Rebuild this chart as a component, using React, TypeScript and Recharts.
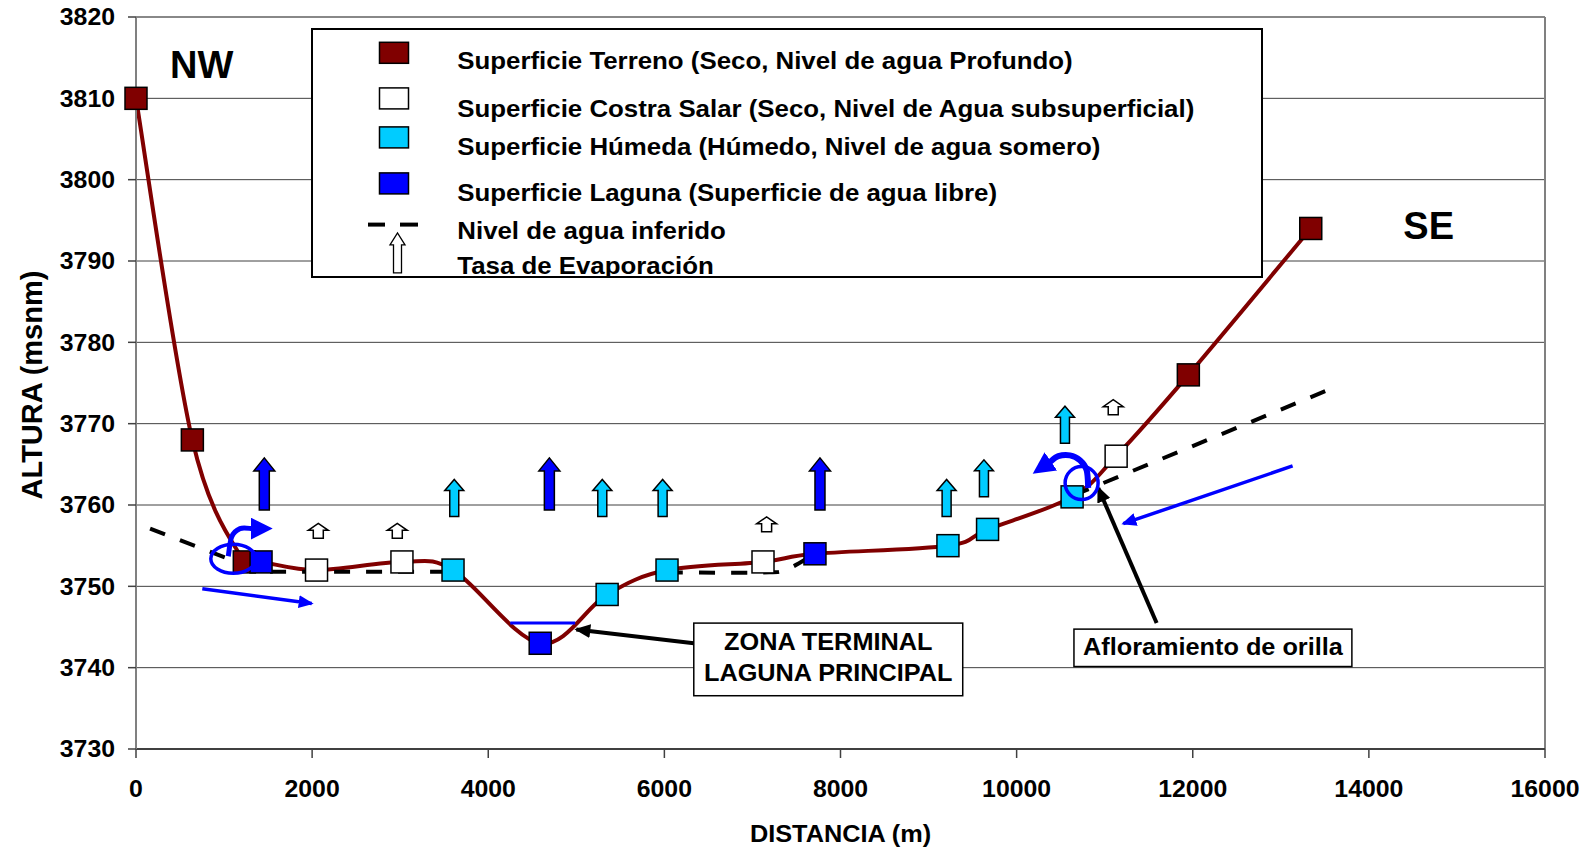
import React from 'react';
import {
  ComposedChart,
  Line,
  Scatter,
  XAxis,
  YAxis,
  CartesianGrid,
  ReferenceArea,
  ReferenceDot,
  ReferenceLine,
  Legend,
  Label,
} from 'recharts';

const FONT = '"Liberation Sans", Arial, Helvetica, sans-serif';

const TERRENO = '#800000';
const COSTRA = '#ffffff';
const HUMEDA = '#00ccff';
const LAGUNA = '#0000ff';
const FLUJO = '#0000ff';

// --- data (distancia m, altura msnm) ---
const terreno = [
  { x: 0, y: 3810 },
  { x: 640, y: 3768 },
  { x: 1230, y: 3753 },
  { x: 11950, y: 3776 },
  { x: 13340, y: 3794 },
];
const costra = [
  { x: 2050, y: 3752 },
  { x: 3020, y: 3753 },
  { x: 7120, y: 3753 },
  { x: 11130, y: 3766 },
];
const humeda = [
  { x: 3600, y: 3752 },
  { x: 5350, y: 3749 },
  { x: 6030, y: 3752 },
  { x: 9220, y: 3755 },
  { x: 9670, y: 3757 },
  { x: 10630, y: 3761 },
];
const laguna = [
  { x: 1420, y: 3753 },
  { x: 4590, y: 3743 },
  { x: 7710, y: 3754 },
];

// nivel de agua inferido (tramos discontinuos)
const nivelAgua1 = [
  { x: 160, y: 3757.1 },
  { x: 1430, y: 3751.8 },
  { x: 3600, y: 3751.8 },
];
const nivelAgua2 = [
  { x: 6030, y: 3751.7 },
  { x: 7100, y: 3751.7 },
  { x: 7370, y: 3752 },
  { x: 7650, y: 3753.6 },
];
const nivelAgua3 = [
  { x: 10650, y: 3761.2 },
  { x: 13640, y: 3774.6 },
];

// tasa de evaporacion (base de cada flecha)
const evapLaguna = [
  { x: 1457, y: 3759.4 },
  { x: 4694, y: 3759.4 },
  { x: 7767, y: 3759.4 },
];
const evapHumeda = [
  { x: 3614, y: 3758.6 },
  { x: 5295, y: 3758.6 },
  { x: 5980, y: 3758.6 },
  { x: 9205, y: 3758.6 },
  { x: 9629, y: 3761.0 },
  { x: 10549, y: 3767.6 },
];
const evapCostra = [
  { x: 2070, y: 3755.9 },
  { x: 2967, y: 3755.9 },
  { x: 7161, y: 3756.7 },
  { x: 11097, y: 3771.1 },
];

// flujos y anotaciones
const flujoNW = [
  { x: 753, y: 3749.7 },
  { x: 1995, y: 3747.9 },
];
const flujoSE = [
  { x: 13134, y: 3764.8 },
  { x: 11211, y: 3757.7 },
];
const giroNW = [
  { x: 1048, y: 3753.7 },
  { x: 1087, y: 3756.1 },
  { x: 1181, y: 3757.1 },
  { x: 1314, y: 3757.1 },
];
const giroSE = [
  { x: 10813, y: 3762.1 },
  { x: 10795, y: 3764.3 },
  { x: 10719, y: 3765.5 },
  { x: 10606, y: 3766.1 },
  { x: 10473, y: 3766.0 },
  { x: 10379, y: 3765.3 },
];
const espejoLaguna = [
  { x: 4250, y: 3745.5 },
  { x: 4987, y: 3745.5 },
];
const flechaZona = [
  { x: 6334, y: 3743.0 },
  { x: 5000, y: 3744.7 },
];
const flechaOrilla = [
  { x: 11590, y: 3745.5 },
  { x: 10927, y: 3762.1 },
];
const anilloNW = { x: 1105, y: 3753.4 };
const anilloSE = { x: 10738, y: 3762.7 };

const regiones = [
  { label: 'NW', x: 746, y: 3814.2 },
  { label: 'SE', x: 14679, y: 3794.4 },
];

const notaZona = { x1: 6334, x2: 9388, y1: 3736.55, y2: 3745.48, lines: ['ZONA TERMINAL', 'LAGUNA PRINCIPAL'] };
const notaOrilla = { x1: 10651, x2: 13807, y1: 3740.14, y2: 3744.74, lines: ['Afloramiento de orilla'] };

const xTicks = [0, 2000, 4000, 6000, 8000, 10000, 12000, 14000, 16000];
const yTicks = [3730, 3740, 3750, 3760, 3770, 3780, 3790, 3800, 3810, 3820];

const legendRows = [
  { label: 'Superficie Terreno (Seco, Nivel de agua Profundo)', kind: 'square', color: TERRENO, top: 14.3, base: 40.6 },
  { label: 'Superficie Costra Salar (Seco, Nivel de Agua subsuperficial)', kind: 'square', color: COSTRA, top: 59.9, base: 89.3 },
  { label: 'Superficie Húmeda (Húmedo, Nivel de agua somero)', kind: 'square', color: HUMEDA, top: 98.9, base: 127.4 },
  { label: 'Superficie Laguna (Superficie de agua libre)', kind: 'square', color: LAGUNA, top: 144.9, base: 172.6 },
  { label: 'Nivel de agua inferido', kind: 'dash', color: '#000', top: 196.6, base: 210.6 },
  { label: 'Tasa de Evaporación', kind: 'arrow', color: '#fff', top: 204.9, base: 245.6 },
];

const perfil = [...terreno, ...costra, ...humeda, ...laguna].sort((a, b) => a.x - b.x);

// Excel-like smoothed line (Bezier through points, 1/6 tangents)
const excelSmooth = (context: any) => {
  let pts: number[][] = [];
  return {
    areaStart() {},
    areaEnd() {},
    lineStart() {
      pts = [];
    },
    point(x: number, y: number) {
      pts.push([+x, +y]);
    },
    lineEnd() {
      const n = pts.length;
      if (!n) return;
      context.moveTo(pts[0][0], pts[0][1]);
      for (let i = 0; i < n - 1; i++) {
        const p0 = pts[Math.max(i - 1, 0)];
        const p1 = pts[i];
        const p2 = pts[i + 1];
        const p3 = pts[Math.min(i + 2, n - 1)];
        context.bezierCurveTo(
          p1[0] + (p2[0] - p0[0]) / 6,
          p1[1] + (p2[1] - p0[1]) / 6,
          p2[0] - (p3[0] - p1[0]) / 6,
          p2[1] - (p3[1] - p1[1]) / 6,
          p2[0],
          p2[1]
        );
      }
    },
  };
};

const StretchText = ({ x, y, size, anchor = 'start', sx = 1.1, children }: any) => (
  <text
    transform={`translate(${x} ${y}) scale(${sx} 1)`}
    textAnchor={anchor}
    fontSize={size}
    fontWeight="bold"
    fontFamily={FONT}
    fill="#000"
  >
    {children}
  </text>
);

const squareShape = (fill: string) => (props: any) => {
  const { cx, cy } = props;
  if (cx == null || cy == null) return <g />;
  return <rect x={cx - 11} y={cy - 11} width={22} height={22} fill={fill} stroke="#000" strokeWidth={1.5} />;
};

const arrowPoints = (cx: number, cy: number, H: number, h: number, W: number, w: number) =>
  [
    [cx - w / 2, cy],
    [cx - w / 2, cy - H + h],
    [cx - W / 2, cy - H + h],
    [cx, cy - H],
    [cx + W / 2, cy - H + h],
    [cx + w / 2, cy - H + h],
    [cx + w / 2, cy],
  ]
    .map((p) => p.join(','))
    .join(' ');

const arrowShape = (fill: string, H: number, h: number, W: number, w: number) => (props: any) => {
  const { cx, cy } = props;
  if (cx == null || cy == null) return <g />;
  return <polygon points={arrowPoints(cx, cy, H, h, W, w)} fill={fill} stroke="#000" strokeWidth={1.5} />;
};

const notaShape = (lines: string[], baselines: number[]) => (p: any) => (
  <g>
    <rect x={p.x} y={p.y} width={p.width} height={p.height} fill="#fff" stroke="#000" strokeWidth={1.5} />
    {lines.map((t, i) => (
      <StretchText key={t} x={p.x + p.width / 2} y={p.y + baselines[i]} size={23} anchor="middle">
        {t}
      </StretchText>
    ))}
  </g>
);

const LegendBox = () => (
  <svg width={952} height={250} style={{ display: 'block' }}>
    <rect x={1} y={1} width={950} height={248} fill="#fff" stroke="#000" strokeWidth={2} />
    {legendRows.map((row) => (
      <g key={row.label}>
        {row.kind === 'square' && (
          <rect x={68.5} y={row.top} width={29} height={21} fill={row.color} stroke="#000" strokeWidth={1.5} />
        )}
        {row.kind === 'dash' && (
          <g stroke="#000" strokeWidth={4}>
            <line x1={57} y1={row.top} x2={74} y2={row.top} />
            <line x1={89} y1={row.top} x2={107} y2={row.top} />
          </g>
        )}
        {row.kind === 'arrow' && (
          <polygon points={arrowPoints(86.5, row.top + 40, 40, 12, 15, 8)} fill="#fff" stroke="#000" strokeWidth={1.3} />
        )}
        <StretchText x={146.3} y={row.base} size={23.5}>
          {row.label}
        </StretchText>
      </g>
    ))}
  </svg>
);

const XTick = (props: any) => {
  const { x, y, payload } = props;
  return (
    <StretchText x={x} y={y + 39} size={23} anchor="middle" sx={1.08}>
      {payload.value}
    </StretchText>
  );
};

const YTick = (props: any) => {
  const { x, y, payload } = props;
  return (
    <StretchText x={x - 13} y={y + 8.3} size={23} anchor="end" sx={1.08}>
      {payload.value}
    </StretchText>
  );
};

const lineBase = {
  dot: false,
  activeDot: false,
  isAnimationActive: false,
  legendType: 'none' as const,
};

export default function App() {
  return (
    <div style={{ width: 1575, height: 851, marginTop: -8, fontFamily: FONT }}>
      <ComposedChart width={1575} height={851} margin={{ top: 17, right: 38, left: 0, bottom: 0 }}>
        <defs>
          <marker id="headBlue" markerUnits="userSpaceOnUse" markerWidth={15} markerHeight={13} refX={13} refY={6.5} orient="auto">
            <path d="M0,0 L15,6.5 L0,13 z" fill={FLUJO} />
          </marker>
          <marker id="headBlueBig" markerUnits="userSpaceOnUse" markerWidth={22} markerHeight={22} refX={1} refY={11} orient="auto">
            <path d="M0,0 L22,11 L0,22 z" fill={FLUJO} />
          </marker>
          <marker id="headBlack" markerUnits="userSpaceOnUse" markerWidth={16} markerHeight={14} refX={14} refY={7} orient="auto">
            <path d="M0,0 L16,7 L0,14 z" fill="#000" />
          </marker>
        </defs>

        <CartesianGrid vertical={false} stroke="#404040" strokeWidth={1} />
        <XAxis
          type="number"
          dataKey="x"
          domain={[0, 16000]}
          ticks={xTicks}
          interval={0}
          height={102}
          tickSize={9}
          tickMargin={0}
          axisLine={{ stroke: '#404040', strokeWidth: 2 }}
          tickLine={{ stroke: '#404040', strokeWidth: 1.5 }}
          tick={XTick}
        >
          <Label
            content={(p: any) => {
              const vb = p.viewBox || { x: 128, y: 749, width: 1409, height: 102 };
              return (
                <StretchText x={vb.x + vb.width / 2} y={vb.y + vb.height - 9} size={23} anchor="middle">
                  DISTANCIA (m)
                </StretchText>
              );
            }}
          />
        </XAxis>
        <YAxis
          type="number"
          dataKey="y"
          domain={[3730, 3820]}
          ticks={yTicks}
          interval={0}
          width={128}
          tickSize={8}
          tickMargin={0}
          axisLine={{ stroke: '#808080', strokeWidth: 2 }}
          tickLine={{ stroke: '#404040', strokeWidth: 1.5 }}
          tick={YTick}
        >
          <Label
            content={(p: any) => {
              const vb = p.viewBox || { x: 0, y: 17, width: 128, height: 732 };
              const cy = vb.y + vb.height / 2 + 2;
              return (
                <text
                  transform={`translate(33.7 ${cy}) rotate(-90)`}
                  textAnchor="middle"
                  fontSize={29}
                  fontWeight="bold"
                  fontFamily={FONT}
                  fill="#000"
                >
                  ALTURA (msnm)
                </text>
              );
            }}
          />
        </YAxis>

        <ReferenceLine x={16000} stroke="#808080" strokeWidth={2} />
        <ReferenceLine y={3820} stroke="#808080" strokeWidth={1.5} />

        <Line {...lineBase} data={perfil} dataKey="y" type={excelSmooth as any} stroke={TERRENO} strokeWidth={4} />

        <Scatter data={terreno} dataKey="y" isAnimationActive={false} legendType="none" shape={squareShape(TERRENO)} />
        <Scatter data={costra} dataKey="y" isAnimationActive={false} legendType="none" shape={squareShape(COSTRA)} />
        <Scatter data={humeda} dataKey="y" isAnimationActive={false} legendType="none" shape={squareShape(HUMEDA)} />
        <Scatter data={laguna} dataKey="y" isAnimationActive={false} legendType="none" shape={squareShape(LAGUNA)} />

        <Line {...lineBase} data={nivelAgua1} dataKey="y" type="linear" stroke="#000" strokeWidth={4} strokeDasharray="16 16" />
        <Line {...lineBase} data={nivelAgua2} dataKey="y" type={excelSmooth as any} stroke="#000" strokeWidth={4} strokeDasharray="16 16" />
        <Line {...lineBase} data={nivelAgua3} dataKey="y" type="linear" stroke="#000" strokeWidth={4} strokeDasharray="16 16" />

        <Scatter data={evapLaguna} dataKey="y" isAnimationActive={false} legendType="none" shape={arrowShape(LAGUNA, 52, 13, 21, 10)} />
        <Scatter data={evapHumeda} dataKey="y" isAnimationActive={false} legendType="none" shape={arrowShape(HUMEDA, 37, 11, 19, 9)} />
        <Scatter data={evapCostra} dataKey="y" isAnimationActive={false} legendType="none" shape={arrowShape(COSTRA, 15, 7, 20, 10)} />

        <Line {...lineBase} data={espejoLaguna} dataKey="y" type="linear" stroke={FLUJO} strokeWidth={3} />
        <Line {...lineBase} data={flujoNW} dataKey="y" type="linear" stroke={FLUJO} strokeWidth={3.5} markerEnd="url(#headBlue)" />
        <Line {...lineBase} data={flujoSE} dataKey="y" type="linear" stroke={FLUJO} strokeWidth={3.5} markerEnd="url(#headBlue)" />
        <Line {...lineBase} data={giroNW} dataKey="y" type={excelSmooth as any} stroke={FLUJO} strokeWidth={5} markerEnd="url(#headBlueBig)" />
        <Line {...lineBase} data={giroSE} dataKey="y" type={excelSmooth as any} stroke={FLUJO} strokeWidth={6} markerEnd="url(#headBlueBig)" />

        <ReferenceDot
          x={anilloNW.x}
          y={anilloNW.y}
          r={0}
          shape={(p: any) => <ellipse cx={p.cx} cy={p.cy} rx={22.5} ry={14.5} fill="none" stroke={FLUJO} strokeWidth={3.5} />}
        />
        <ReferenceDot
          x={anilloSE.x}
          y={anilloSE.y}
          r={0}
          shape={(p: any) => <circle cx={p.cx} cy={p.cy} r={16.5} fill="none" stroke={FLUJO} strokeWidth={3.5} />}
        />

        <Line {...lineBase} data={flechaZona} dataKey="y" type="linear" stroke="#000" strokeWidth={4} markerEnd="url(#headBlack)" />
        <Line {...lineBase} data={flechaOrilla} dataKey="y" type="linear" stroke="#000" strokeWidth={4} markerEnd="url(#headBlack)" />

        <ReferenceArea
          x1={notaZona.x1}
          x2={notaZona.x2}
          y1={notaZona.y1}
          y2={notaZona.y2}
          shape={notaShape(notaZona.lines, [26.7, 58.4])}
        />
        <ReferenceArea
          x1={notaOrilla.x1}
          x2={notaOrilla.x2}
          y1={notaOrilla.y1}
          y2={notaOrilla.y2}
          shape={notaShape(notaOrilla.lines, [26])}
        />

        {regiones.map((r) => (
          <ReferenceDot
            key={r.label}
            x={r.x}
            y={r.y}
            r={0}
            shape={(p: any) => (
              <text x={p.cx} y={p.cy + 13.6} textAnchor="middle" fontSize={38} fontWeight="bold" fontFamily={FONT} fill="#000">
                {r.label}
              </text>
            )}
          />
        ))}

        <Legend
          layout="horizontal"
          verticalAlign="middle"
          align="center"
          content={() => <LegendBox />}
          wrapperStyle={{ left: 303, top: 28.4, width: 952, height: 250, lineHeight: 0 }}
        />
      </ComposedChart>
    </div>
  );
}
